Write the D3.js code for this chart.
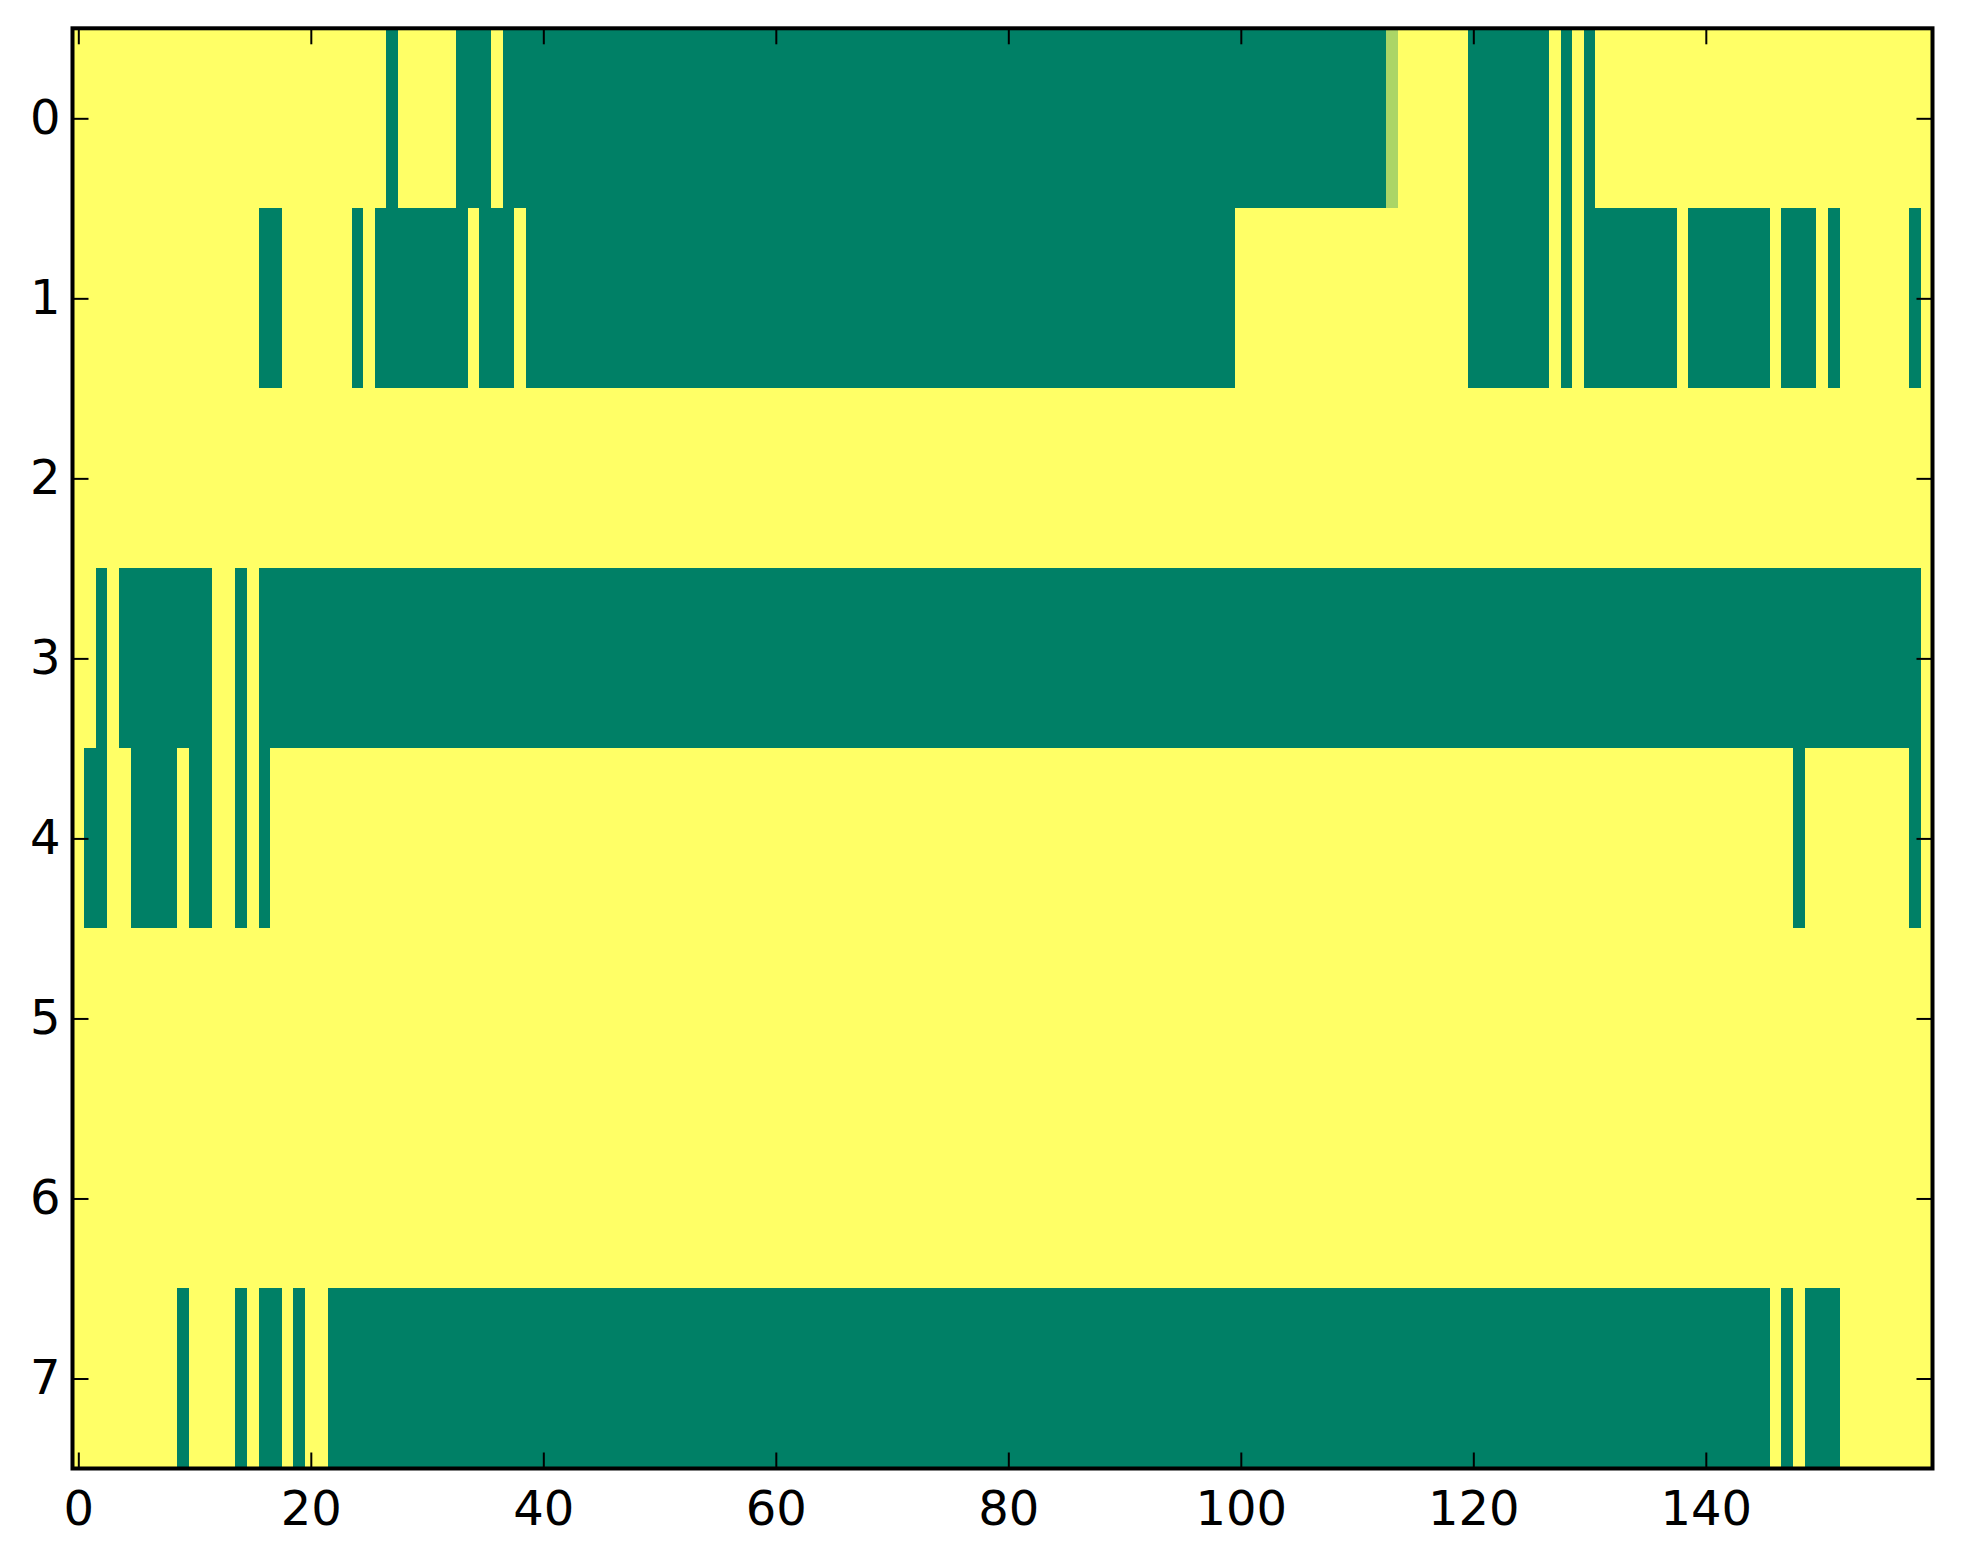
<!DOCTYPE html>
<html>
<head>
<meta charset="utf-8">
<script src="https://cdn.jsdelivr.net/npm/d3@7"></script>
<style>
  html, body { margin: 0; padding: 0; background: #fff; }
  svg { display: block; }
  .tick text { font-family: "DejaVu Sans", sans-serif; font-size: 48px; fill: #000; }
  .tick line { stroke: #000; stroke-width: 2; }
</style>
</head>
<body>
<div id="chart"></div>
<script>
// grid size
const nCols = 160;
const rowLabels = [0, 1, 2, 3, 4, 5, 6, 7];
const xTicks = [0, 20, 40, 60, 80, 100, 120, 140];

// green (value 1) column ranges per row
const row0 = [[27, 27], [33, 35], [37, 112], [120, 126], [128, 128], [130, 130]];
const row1 = [[16, 17], [24, 24], [26, 33], [35, 37], [39, 99], [120, 126], [128, 128],
              [130, 137], [139, 145], [147, 149], [151, 151], [158, 158]];
const row2 = [];
const row3 = [[2, 2], [4, 11], [14, 14], [16, 158]];
const row4 = [[1, 2], [5, 8], [10, 11], [14, 14], [16, 16], [148, 148], [158, 158]];
const row5 = [];
const row6 = [];
const row7 = [[9, 9], [14, 14], [16, 17], [19, 19], [22, 145], [147, 147], [149, 151]];
// the single in-between cell: [row, col, value]
const partialCells = [[0, 113, 0.33]];

const rows = [row0, row1, row2, row3, row4, row5, row6, row7];

// build the value matrix
const cells = [];
rows.forEach((spans, r) => {
    const vals = new Array(nCols).fill(0);
    spans.forEach(([a, b]) => { for (let c = a; c <= b; c++) vals[c] = 1; });
    partialCells.filter(p => p[0] === r).forEach(p => { vals[p[1]] = p[2]; });
    vals.forEach((v, c) => cells.push({ row: r, col: c, value: v }));
});

const width = 1963, height = 1564;
const plotLeft = 72.5, plotRight = 1932.5, plotTop = 28.3, plotBottom = 1468.5;

const svg = d3.select("#chart")
    .append("svg")
    .attr("width", width)
    .attr("height", height);

const x = d3.scaleLinear().domain([-0.5, nCols - 0.5]).range([plotLeft, plotRight]);
const y = d3.scaleLinear().domain([-0.5, rowLabels.length - 0.5]).range([plotTop, plotBottom]);

// summer_r: 0 -> yellow, 1 -> green
const color = d3.scaleLinear()
    .domain([0, 1])
    .range(["#ffff66", "#008066"])
    .interpolate(d3.interpolateRgb);

svg.append("g")
    .attr("shape-rendering", "crispEdges")
    .selectAll("rect")
    .data(cells)
    .enter()
    .append("rect")
    .attr("x", d => x(d.col - 0.5))
    .attr("y", d => y(d.row - 0.5))
    .attr("width", x(1) - x(0) + 0.4)
    .attr("height", y(1) - y(0) + 0.4)
    .attr("fill", d => color(d.value));

// axes, ticks pointing inward on all four sides
const tickLen = 16;

svg.append("g")
    .attr("transform", `translate(0,${plotBottom})`)
    .call(d3.axisBottom(x).tickValues(xTicks).tickSizeInner(-tickLen).tickSizeOuter(0).tickPadding(22));
svg.append("g")
    .attr("transform", `translate(0,${plotTop})`)
    .call(d3.axisTop(x).tickValues(xTicks).tickSizeInner(-tickLen).tickSizeOuter(0).tickFormat(""));
svg.append("g")
    .attr("transform", `translate(${plotLeft},0)`)
    .call(d3.axisLeft(y).tickValues(rowLabels).tickSizeInner(-tickLen).tickSizeOuter(0).tickPadding(12));
svg.append("g")
    .attr("transform", `translate(${plotRight},0)`)
    .call(d3.axisRight(y).tickValues(rowLabels).tickSizeInner(-tickLen).tickSizeOuter(0).tickFormat(""));

svg.selectAll(".domain").remove();

// frame
svg.append("rect")
    .attr("x", plotLeft)
    .attr("y", plotTop)
    .attr("width", plotRight - plotLeft)
    .attr("height", plotBottom - plotTop)
    .attr("fill", "none")
    .attr("stroke", "#000")
    .attr("stroke-width", 4);
</script>
</body>
</html>
